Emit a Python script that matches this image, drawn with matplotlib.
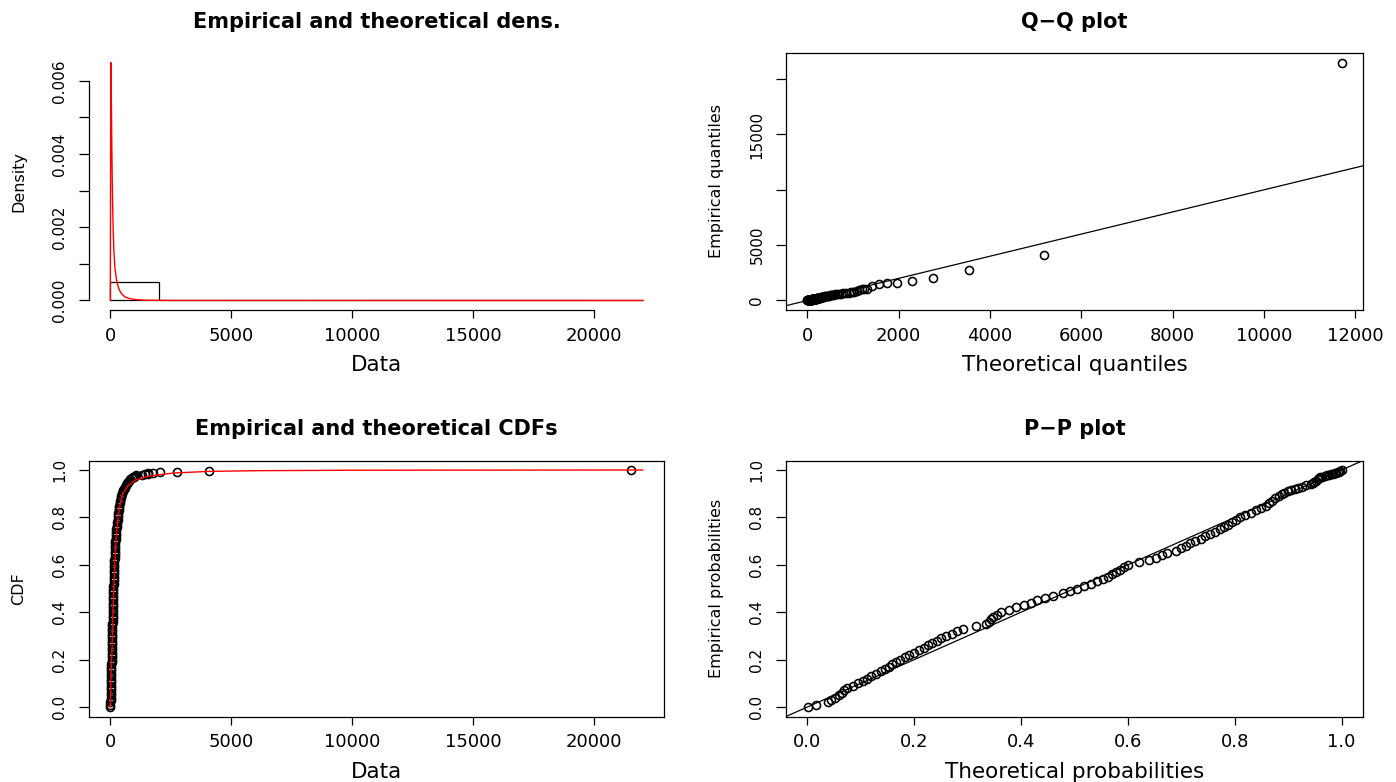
import numpy as np
import matplotlib
matplotlib.use('Agg')
from matplotlib import pyplot as plt

# histogram of the data (density scale), breaks every 2000
hist_edges = [0, 2000, 4000, 6000, 8000, 10000, 12000, 14000, 16000, 18000, 20000, 22000]
hist_density = [0.000494, 0.000004, 0.000002, 0, 0, 0, 0, 0, 0, 0, 0.000002]

# fitted density curve
fit_dens_x = [0, 22, 35, 50, 65, 80, 100, 120, 150, 190, 240, 290, 370, 470, 600,
              800, 1100, 1500, 2500, 22000]
fit_dens_y = [0, 0.0065, 0.0060, 0.0051, 0.0041, 0.0033, 0.0025, 0.0019, 0.00135,
              0.0009, 0.00064, 0.00046, 0.00029, 0.00018, 0.0001, 0.00005, 0.00002,
              0.000006, 0.000001, 0]

# fitted CDF curve
fit_cdf_x = [0, 10, 24, 38, 55, 72, 88, 112, 145, 185, 235, 275, 320, 397, 515, 742,
             1085, 1636, 2600, 4030, 6000, 10000, 22000]
fit_cdf_y = [0, 0.05, 0.1, 0.15, 0.2, 0.25, 0.3, 0.4, 0.5, 0.6, 0.7, 0.75, 0.8, 0.85,
             0.9, 0.935, 0.96, 0.975, 0.987, 0.994, 0.997, 0.999, 1.0]

# observations: ecdf height, observed value, theoretical quantile, theoretical prob
emp_probs = [0.002, 0.01, 0.02, 0.03, 0.04, 0.05, 0.06, 0.07, 0.08, 0.09, 0.10,
             0.11, 0.12, 0.13, 0.14, 0.15, 0.16, 0.17, 0.18, 0.19, 0.20,
             0.21, 0.22, 0.23, 0.24, 0.25, 0.26, 0.27, 0.28, 0.29, 0.30,
             0.31, 0.32, 0.33, 0.34, 0.35, 0.36, 0.37, 0.38, 0.39, 0.40,
             0.41, 0.42, 0.43, 0.44, 0.45, 0.46, 0.47, 0.48, 0.49, 0.50,
             0.51, 0.52, 0.53, 0.54, 0.55, 0.56, 0.57, 0.58, 0.59, 0.60,
             0.61, 0.62, 0.63, 0.64, 0.65, 0.66, 0.67, 0.68, 0.69, 0.70,
             0.71, 0.72, 0.73, 0.74, 0.75, 0.76, 0.77, 0.78, 0.79, 0.80,
             0.81, 0.82, 0.83, 0.84, 0.85, 0.86, 0.87, 0.88, 0.89, 0.90,
             0.905, 0.91, 0.915, 0.92, 0.925, 0.93, 0.935, 0.94, 0.945, 0.95,
             0.955, 0.96, 0.965, 0.97, 0.972, 0.975, 0.977, 0.979, 0.982, 0.984,
             0.986, 0.988, 0.991, 0.993, 0.996, 1.0]
emp_values = [1, 4, 7, 10, 13, 16, 19, 22, 24, 27, 30,
              32, 35, 37, 40, 42, 44, 46, 49, 51, 53,
              55, 57, 60, 62, 64, 67, 69, 72, 74, 77,
              80, 82, 85, 87, 90, 92, 94, 97, 99, 101,
              103, 106, 108, 111, 113, 116, 119, 121, 124, 127,
              130, 134, 137, 141, 144, 148, 151, 155, 158, 162,
              166, 170, 174, 178, 182, 187, 193, 199, 205, 211,
              218, 226, 234, 242, 250, 262, 274, 286, 298, 310,
              322, 335, 347, 360, 372, 393, 415, 436, 458, 480,
              500, 520, 545, 570, 598, 625, 650, 672, 705, 740,
              775, 810, 880, 950, 1000, 1030, 1060, 1304, 1450, 1540,
              1576, 1757, 2056, 2754, 4076, 21500]
theo_quantiles = [1, 2, 4, 6, 8, 10, 13, 16, 18, 21, 24,
                  27, 30, 32, 35, 38, 41, 45, 48, 52, 55,
                  58, 62, 65, 69, 72, 75, 78, 82, 85, 88,
                  90, 93, 95, 98, 100, 102, 105, 107, 110, 112,
                  115, 118, 121, 124, 127, 131, 134, 138, 141, 145,
                  149, 152, 156, 159, 163, 167, 172, 176, 181, 185,
                  190, 194, 199, 203, 208, 213, 218, 224, 229, 235,
                  243, 251, 259, 267, 275, 284, 293, 302, 311, 320,
                  335, 350, 366, 381, 397, 420, 444, 467, 491, 515,
                  545, 575, 610, 650, 695, 740, 790, 845, 905, 960,
                  1000, 1030, 1080, 1130, 1187, 1240, 1297, 1420, 1560, 1736,
                  1956, 2286, 2761, 3545, 5178, 11700]
theo_probs = [0.002, 0.016, 0.038, 0.045, 0.052, 0.060, 0.064, 0.069, 0.075, 0.085, 0.095,
              0.104, 0.112, 0.120, 0.129, 0.137, 0.145, 0.152, 0.159, 0.166, 0.174,
              0.183, 0.191, 0.200, 0.209, 0.218, 0.226, 0.234, 0.243, 0.251, 0.260,
              0.270, 0.280, 0.292, 0.315, 0.335, 0.340, 0.344, 0.347, 0.355, 0.363,
              0.377, 0.391, 0.405, 0.418, 0.430, 0.445, 0.460, 0.478, 0.492, 0.505,
              0.518, 0.530, 0.542, 0.553, 0.562, 0.570, 0.578, 0.585, 0.593, 0.600,
              0.620, 0.640, 0.652, 0.663, 0.674, 0.690, 0.700, 0.708, 0.717, 0.726,
              0.736, 0.745, 0.754, 0.763, 0.772, 0.780, 0.788, 0.795, 0.803, 0.810,
              0.820, 0.830, 0.840, 0.849, 0.858, 0.864, 0.870, 0.876, 0.882, 0.888,
              0.893, 0.899, 0.905, 0.912, 0.918, 0.926, 0.934, 0.943, 0.946, 0.949,
              0.952, 0.955, 0.958, 0.960, 0.964, 0.968, 0.972, 0.976, 0.980, 0.984,
              0.987, 0.990, 0.993, 0.995, 0.997, 0.9999]

plt.rcParams['font.family'] = ['DejaVu Sans']

W, H = 1396, 782
fig = plt.figure(figsize=(W / 100, H / 100), dpi=100)


def add_panel(left, top, right, bottom):
    return fig.add_axes([left / W, (H - bottom) / H, (right - left) / W, (bottom - top) / H])


def r_style(ax, title, xlabel, ylabel, box=True):
    """Make an axes look like base R graphics."""
    ax.tick_params(axis='x', direction='out', length=6, width=0.9, pad=6, labelsize=13)
    ax.tick_params(axis='y', direction='out', length=7.5, width=0.9, pad=8, labelsize=11)
    plt.setp(ax.get_yticklabels(), rotation=90, va='center')
    for s in ax.spines.values():
        s.set_linewidth(0.9)
    if not box:
        ax.spines['top'].set_visible(False)
        ax.spines['right'].set_visible(False)
    h = ax.get_position().height * H
    w = ax.get_position().width * W
    ax.set_title(title, fontsize=15, fontweight='bold', y=1 + 31.5 / h, va='center', pad=0)
    ax.set_xlabel(xlabel, fontsize=15.5)
    ax.xaxis.set_label_coords(0.5, -55 / h)
    ax.xaxis.label.set_va('center')
    ax.set_ylabel(ylabel, fontsize=11.5)
    ax.yaxis.set_label_coords(-70 / w, 0.5)
    ax.yaxis.label.set_va('center')


pt = dict(linestyle='none', marker='o', mfc='none', mec='black', ms=5.8, mew=1.15)

# top left: histogram + fitted density
ax1 = add_panel(89, 53, 664, 310)
ax1.bar(hist_edges[:-1], hist_density, width=np.diff(hist_edges), align='edge',
        fill=False, edgecolor='black', linewidth=0.9)
ax1.plot(fit_dens_x, fit_dens_y, color='red', linewidth=1.0, zorder=3)
ax1.set_xlim(-880, 22880)
ax1.set_ylim(-0.00026, 0.00676)
ax1.set_xticks([0, 5000, 10000, 15000, 20000])
ax1.set_yticks([0, 0.001, 0.002, 0.003, 0.004, 0.005, 0.006])
ax1.set_yticklabels(['0.000', '', '0.002', '', '0.004', '', '0.006'])
ax1.spines['left'].set_bounds(0, 0.006)
ax1.spines['bottom'].set_bounds(0, 20000)
r_style(ax1, 'Empirical and theoretical dens.', 'Data', 'Density', box=False)

# top right: Q-Q plot
ax2 = add_panel(786, 53, 1363, 310)
ax2.axline((0, 0), slope=1, color='black', linewidth=0.9)
ax2.plot(theo_quantiles, emp_values, **pt)
ax2.set_xlim(-468, 12168)
ax2.set_ylim(-860, 22360)
ax2.set_xticks([0, 2000, 4000, 6000, 8000, 10000, 12000])
ax2.set_yticks([0, 5000, 10000, 15000, 20000])
ax2.set_yticklabels(['0', '5000', '', '15000', ''])
r_style(ax2, 'Q\u2212Q plot', 'Theoretical quantiles', 'Empirical quantiles')

# bottom left: empirical and fitted CDF
ax3 = add_panel(89, 460.5, 664, 716.5)
ax3.plot(emp_values, emp_probs, **pt)
ax3.plot(fit_cdf_x, fit_cdf_y, color='red', linewidth=1.0, zorder=3)
ax3.set_xlim(-880, 22880)
ax3.set_ylim(-0.04, 1.04)
ax3.set_xticks([0, 5000, 10000, 15000, 20000])
ax3.set_yticks([0, 0.2, 0.4, 0.6, 0.8, 1.0])
ax3.set_yticklabels(['0.0', '0.2', '0.4', '0.6', '0.8', '1.0'])
r_style(ax3, 'Empirical and theoretical CDFs', 'Data', 'CDF')

# bottom right: P-P plot
ax4 = add_panel(786, 460.5, 1363, 716.5)
ax4.axline((0, 0), slope=1, color='black', linewidth=0.9)
ax4.plot(theo_probs, emp_probs, **pt)
ax4.set_xlim(-0.04, 1.04)
ax4.set_ylim(-0.04, 1.04)
ticks = [0, 0.2, 0.4, 0.6, 0.8, 1.0]
ax4.set_xticks(ticks)
ax4.set_xticklabels(['0.0', '0.2', '0.4', '0.6', '0.8', '1.0'])
ax4.set_yticks(ticks)
ax4.set_yticklabels(['0.0', '0.2', '0.4', '0.6', '0.8', '1.0'])
r_style(ax4, 'P\u2212P plot', 'Theoretical probabilities', 'Empirical probabilities')

fig.savefig('out.png', dpi=100)
